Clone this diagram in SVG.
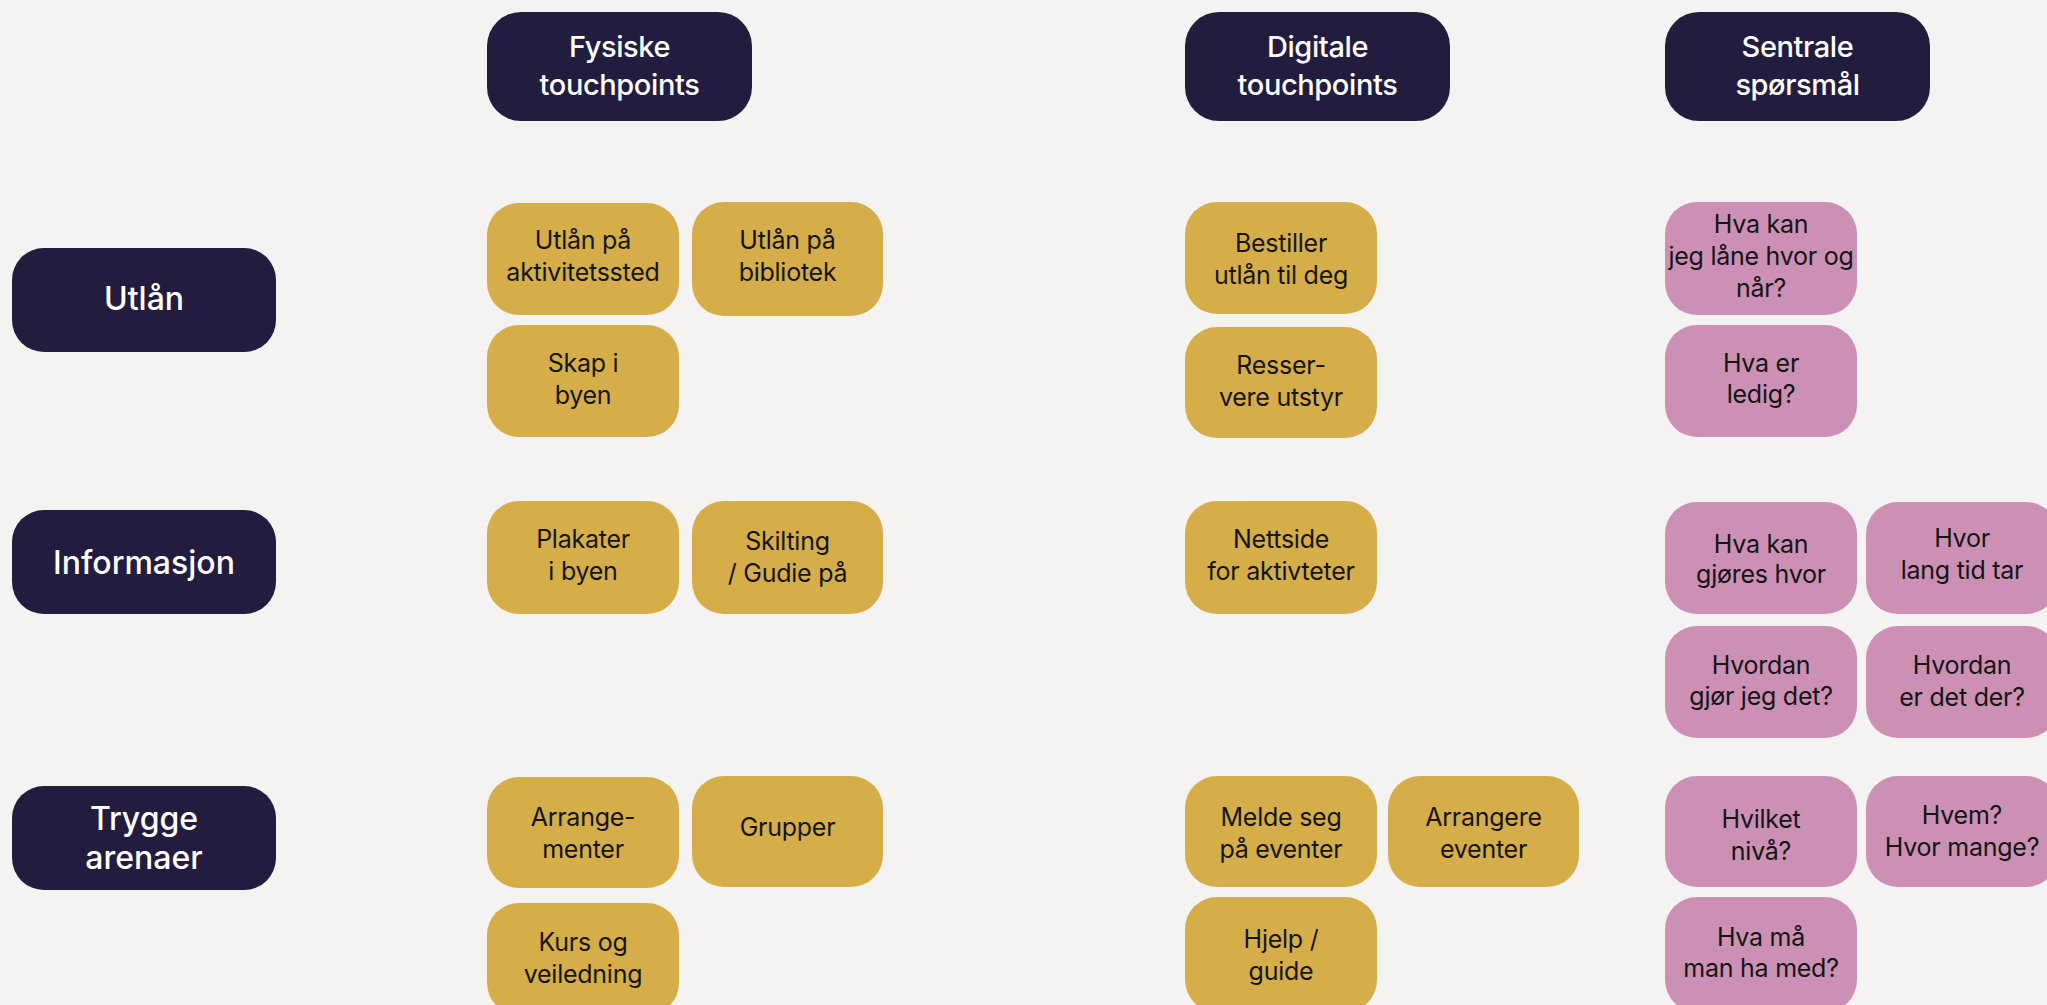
<svg xmlns="http://www.w3.org/2000/svg" width="2047" height="1005" viewBox="0 0 2047 1005">
  <style>
    .bg { fill: #F4F3F1; }
    .head { fill: #221D3F; }
    .phys { fill: #D5AE4A; }
    .ask { fill: #CC90B5; }
    .ht { font-family: Inter, "Noto Sans", sans-serif; font-size: 29px; font-weight: 500; fill: #FFFFFF; text-anchor: middle; letter-spacing: -0.4px; }
    .rt { font-family: Inter, "Noto Sans", sans-serif; font-size: 32px; font-weight: 500; fill: #FFFFFF; text-anchor: middle; }
    .bt { font-family: Inter, "Noto Sans", sans-serif; font-size: 25px; font-weight: 400; fill: #151515; text-anchor: middle; letter-spacing: -0.25px; }
  </style>
  <rect class="bg" x="0" y="0" width="2047" height="1005"/>

  <!-- column headers -->
  <g id="h-fysiske">
    <rect class="head" x="487" y="12" width="265" height="109" rx="34"/>
    <text class="ht" x="619.5" y="57">Fysiske</text>
    <text class="ht" x="619.5" y="95">touchpoints</text>
  </g>
  <g id="h-digitale">
    <rect class="head" x="1185" y="12" width="265" height="109" rx="34"/>
    <text class="ht" x="1317.5" y="57">Digitale</text>
    <text class="ht" x="1317.5" y="95">touchpoints</text>
  </g>
  <g id="h-sentrale">
    <rect class="head" x="1665" y="12" width="265" height="109" rx="34"/>
    <text class="ht" x="1797.5" y="57">Sentrale</text>
    <text class="ht" x="1797.5" y="95">spørsmål</text>
  </g>

  <!-- row headers -->
  <g id="r-utlan">
    <rect class="head" x="12" y="248" width="264" height="104" rx="32"/>
    <text class="rt" x="144" y="310">Utlån</text>
  </g>
  <g id="r-informasjon">
    <rect class="head" x="12" y="510" width="264" height="104" rx="32"/>
    <text class="rt" x="144" y="574">Informasjon</text>
  </g>
  <g id="r-trygge">
    <rect class="head" x="12" y="786" width="264" height="104" rx="32"/>
    <text class="rt" x="144" y="830">Trygge</text>
    <text class="rt" x="144" y="869">arenaer</text>
  </g>

  <!-- Utlån: physical -->
  <g id="n-utlan-akt">
    <rect class="phys" x="487" y="203" width="192" height="112" rx="32"/>
    <text class="bt" x="583" y="249">Utlån på</text>
    <text class="bt" x="583" y="281">aktivitetssted</text>
  </g>
  <g id="n-utlan-bib">
    <rect class="phys" x="692" y="202" width="191" height="114" rx="32"/>
    <text class="bt" x="787.5" y="249">Utlån på</text>
    <text class="bt" x="787.5" y="281">bibliotek</text>
  </g>
  <g id="n-skap">
    <rect class="phys" x="487" y="325" width="192" height="112" rx="32"/>
    <text class="bt" x="583" y="372">Skap i</text>
    <text class="bt" x="583" y="404">byen</text>
  </g>

  <!-- Utlån: digital -->
  <g id="n-bestiller">
    <rect class="phys" x="1185" y="202" width="192" height="112" rx="32"/>
    <text class="bt" x="1281" y="252">Bestiller</text>
    <text class="bt" x="1281" y="284">utlån til deg</text>
  </g>
  <g id="n-resservere">
    <rect class="phys" x="1185" y="327" width="192" height="111" rx="32"/>
    <text class="bt" x="1281" y="374">Resser-</text>
    <text class="bt" x="1281" y="406">vere utstyr</text>
  </g>

  <!-- Utlån: questions -->
  <g id="q-lane">
    <rect class="ask" x="1665" y="202" width="192" height="113" rx="32"/>
    <text class="bt" x="1761" y="233">Hva kan</text>
    <text class="bt" x="1761" y="265">jeg låne hvor og</text>
    <text class="bt" x="1761" y="297">når?</text>
  </g>
  <g id="q-ledig">
    <rect class="ask" x="1665" y="325" width="192" height="112" rx="32"/>
    <text class="bt" x="1761" y="372">Hva er</text>
    <text class="bt" x="1761" y="403">ledig?</text>
  </g>

  <!-- Informasjon: physical -->
  <g id="n-plakater">
    <rect class="phys" x="487" y="501" width="192" height="113" rx="32"/>
    <text class="bt" x="583" y="548">Plakater</text>
    <text class="bt" x="583" y="580">i byen</text>
  </g>
  <g id="n-skilting">
    <rect class="phys" x="692" y="501" width="191" height="113" rx="32"/>
    <text class="bt" x="787.5" y="550">Skilting</text>
    <text class="bt" x="787.5" y="582">/ Gudie på</text>
  </g>

  <!-- Informasjon: digital -->
  <g id="n-nettside">
    <rect class="phys" x="1185" y="501" width="192" height="113" rx="32"/>
    <text class="bt" x="1281" y="548">Nettside</text>
    <text class="bt" x="1281" y="580">for aktivteter</text>
  </g>

  <!-- Informasjon: questions -->
  <g id="q-gjores">
    <rect class="ask" x="1665" y="502" width="192" height="112" rx="32"/>
    <text class="bt" x="1761" y="553">Hva kan</text>
    <text class="bt" x="1761" y="583">gjøres hvor</text>
  </g>
  <g id="q-tid">
    <rect class="ask" x="1866" y="502" width="192" height="112" rx="32"/>
    <text class="bt" x="1962" y="547">Hvor</text>
    <text class="bt" x="1962" y="579">lang tid tar</text>
  </g>
  <g id="q-hvordan">
    <rect class="ask" x="1665" y="626" width="192" height="112" rx="32"/>
    <text class="bt" x="1761" y="674">Hvordan</text>
    <text class="bt" x="1761" y="705">gjør jeg det?</text>
  </g>
  <g id="q-der">
    <rect class="ask" x="1866" y="626" width="192" height="112" rx="32"/>
    <text class="bt" x="1962" y="674">Hvordan</text>
    <text class="bt" x="1962" y="706">er det der?</text>
  </g>

  <!-- Trygge arenaer: physical -->
  <g id="n-arrangementer">
    <rect class="phys" x="487" y="777" width="192" height="111" rx="32"/>
    <text class="bt" x="583" y="826">Arrange-</text>
    <text class="bt" x="583" y="858">menter</text>
  </g>
  <g id="n-grupper">
    <rect class="phys" x="692" y="776" width="191" height="111" rx="32"/>
    <text class="bt" x="787.5" y="836">Grupper</text>
  </g>
  <g id="n-kurs">
    <rect class="phys" x="487" y="903" width="192" height="112" rx="32"/>
    <text class="bt" x="583" y="951">Kurs og</text>
    <text class="bt" x="583" y="983">veiledning</text>
  </g>

  <!-- Trygge arenaer: digital -->
  <g id="n-melde">
    <rect class="phys" x="1185" y="776" width="192" height="111" rx="32"/>
    <text class="bt" x="1281" y="826">Melde seg</text>
    <text class="bt" x="1281" y="858">på eventer</text>
  </g>
  <g id="n-arrangere">
    <rect class="phys" x="1388" y="776" width="191" height="111" rx="32"/>
    <text class="bt" x="1483.5" y="826">Arrangere</text>
    <text class="bt" x="1483.5" y="858">eventer</text>
  </g>
  <g id="n-hjelp">
    <rect class="phys" x="1185" y="897" width="192" height="115" rx="32"/>
    <text class="bt" x="1281" y="948">Hjelp /</text>
    <text class="bt" x="1281" y="980">guide</text>
  </g>

  <!-- Trygge arenaer: questions -->
  <g id="q-niva">
    <rect class="ask" x="1665" y="776" width="192" height="111" rx="32"/>
    <text class="bt" x="1761" y="828">Hvilket</text>
    <text class="bt" x="1761" y="860">nivå?</text>
  </g>
  <g id="q-hvem">
    <rect class="ask" x="1866" y="776" width="192" height="111" rx="32"/>
    <text class="bt" x="1962" y="824">Hvem?</text>
    <text class="bt" x="1962" y="856">Hvor mange?</text>
  </g>
  <g id="q-med">
    <rect class="ask" x="1665" y="897" width="192" height="115" rx="32"/>
    <text class="bt" x="1761" y="946">Hva må</text>
    <text class="bt" x="1761" y="977">man ha med?</text>
  </g>

  <g id="connectors"/>
</svg>
